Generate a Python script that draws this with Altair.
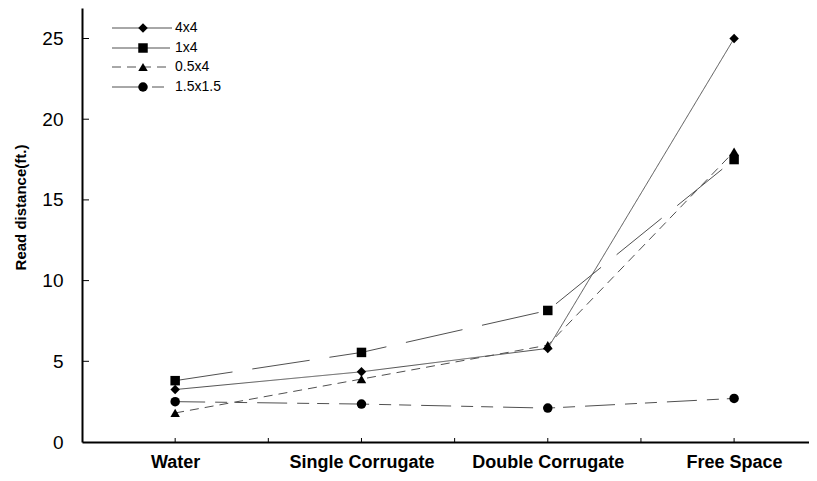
import altair as alt
import pandas as pd

# ---- data ----
categories = ["Water", "Single Corrugate", "Double Corrugate", "Free Space"]
series = ["4x4", "1x4", "0.5x4", "1.5x1.5"]
vals_4x4 = [3.25, 4.35, 5.8, 25.0]
vals_1x4 = [3.8, 5.55, 8.15, 17.5]
vals_05x4 = [1.8, 3.9, 6.0, 18.0]
vals_15x15 = [2.5, 2.35, 2.1, 2.7]
y_ticks = [0, 5, 10, 15, 20, 25]
x_minor_ticks = [0, 0.5, 1, 1.5, 2, 2.5, 3]

all_vals = [vals_4x4, vals_1x4, vals_05x4, vals_15x15]
rows = []
for s, vs in zip(series, all_vals):
    for i, (c, v) in enumerate(zip(categories, vs)):
        rows.append({"series": s, "category": c, "xi": i, "v": v})
df = pd.DataFrame(rows)

# ---- styles ----
FONT = "Liberation Sans"
shapes = ["diamond", "square", "triangle-up", "circle"]
dashes = [[1, 0], [58, 20], [9, 6], [30, 10, 12, 8, 12, 10]]
LINE_COLOR = "#505050"
W, H = 727, 434

label_expr = "datum.value % 1 == 0 ? [" + ",".join("'%s'" % c for c in categories) + "][datum.value] : ''"

xscale = alt.Scale(domain=[-0.5, 3.402], nice=False, zero=False)
yscale = alt.Scale(domain=[0, 26.89], nice=False)

xenc = alt.X("xi:Q", scale=xscale, title=None,
             axis=alt.Axis(values=[0, 1, 2, 3], labelExpr=label_expr, grid=False,
                           ticks=False, domainColor="black", domainWidth=2,
                           labelFont=FONT, labelFontSize=18, labelFontWeight="bold",
                           labelColor="black", labelPadding=11, labelFlush=False))
yenc = alt.Y("v:Q", scale=yscale, title="Read distance(ft.)",
             axis=alt.Axis(values=y_ticks, grid=False, ticks=False,
                           domainColor="black", domainWidth=2,
                           labelFont=FONT, labelFontSize=19, labelColor="black",
                           labelPadding=19,
                           titleFont=FONT, titleFontSize=15, titleFontWeight="bold",
                           titleColor="black", titleX=-62, titleY=199,
                           titleAngle=-90, titleAlign="center", titleBaseline="middle"))

dash_enc = alt.StrokeDash("series:N", scale=alt.Scale(domain=series, range=dashes), legend=None)
shape_enc = alt.Shape("series:N", scale=alt.Scale(domain=series, range=shapes), legend=None)

lines = alt.Chart(df).mark_line(color=LINE_COLOR, strokeWidth=1).encode(
    x=xenc, y=yenc, strokeDash=dash_enc, detail="series:N"
)
points = alt.Chart(df).mark_point(filled=True, color="black", opacity=1, size=90).encode(
    x=xenc, y=yenc, shape=shape_enc
)

ytick_df = pd.DataFrame({"v": y_ticks[1:]})
xtick_df = pd.DataFrame({"xi": x_minor_ticks})
yticks = alt.Chart(ytick_df).mark_rule(color="black", strokeWidth=1).encode(
    y=yenc, x=alt.value(0), x2=alt.value(7)
)
xticks = alt.Chart(xtick_df).mark_rule(color="black", strokeWidth=1).encode(
    x=xenc, y=alt.value(H), y2=alt.value(H - 4)
)

# ---- manual legend (top-left inside plot) ----
legend_layers = []
row_y = [20, 40, 59, 79]
for s, shp, dsh, ry in zip(series, shapes, dashes, row_y):
    ldf = pd.DataFrame({"series": [s]})
    legend_layers.append(
        alt.Chart(ldf).mark_rule(color=LINE_COLOR, strokeWidth=1, strokeDash=dsh).encode(
            x=alt.value(30), x2=alt.value(90), y=alt.value(ry))
    )
    legend_layers.append(
        alt.Chart(ldf).mark_point(filled=True, color="black", opacity=1, size=90, shape=shp).encode(
            x=alt.value(61), y=alt.value(ry))
    )
    legend_layers.append(
        alt.Chart(ldf).mark_text(align="left", baseline="middle", font=FONT, fontSize=14,
                                 color="black").encode(
            x=alt.value(93), y=alt.value(ry), text="series:N")
    )

chart = alt.layer(lines, points, yticks, xticks, *legend_layers).properties(
    width=W, height=H, autosize="none",
    padding={"left": 74, "top": 0, "right": 0, "bottom": 31},
    background="white",
).configure_view(stroke=None)

chart.save("out.html", embed_options={"renderer": "svg", "actions": False})
